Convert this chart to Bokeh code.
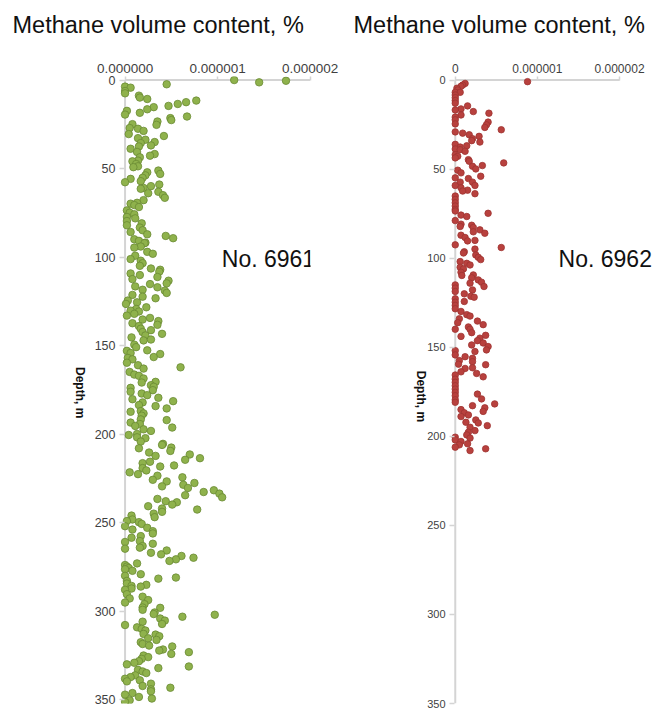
import numpy as np
from bokeh.plotting import figure
from bokeh.models import Range1d, FixedTicker, PrintfTickFormatter, Label, Arrow, LinearAxis
from bokeh.layouts import row
from bokeh.embed import file_html
from bokeh.resources import INLINE

# ---------------- data (methane content in units of 1e-6 %, depth in m) ----------------
UNIT = 1e-6

depth_6961 = [0, 1.3, 0.4, 2.4, 3.7, 4.3, 6.2, 7.5, 8.8, 9.9, 10.7, 11.6, 12.5, 13.5, 14.6, 15.3, 16.5, 17.4, 18.5, 19.5,
              20.6, 21.5, 22.6, 23.4, 24.9, 25.3, 27.1, 27.5, 28.7, 30.5, 31.6, 32.8, 33.7, 35, 35.6, 36.9, 37.5, 38.8, 40.6, 41.8,
              42.7, 43.6, 45.5, 45.9, 47.4, 48.7, 49.2, 51.1, 52.1, 53, 53.8, 55.2, 55.8, 57.1, 57.7, 59, 59.9, 60.9, 61.4, 63.1,
              63.9, 65, 66.5, 67.8, 69.3, 69.8, 70.6, 71.7, 73.6, 74.9, 75.8, 77.3, 78.1, 79.6, 80.9, 82, 83.3, 84.8, 85.8, 87.1,
              88, 89.3, 89.9, 90.8, 91.8, 92.1, 94, 94.6, 97, 98.1, 99.2, 101.1, 102, 103.4, 104.9, 106.4, 107.1, 108.2, 109.2, 110.1,
              111.2, 112.4, 113.3, 114.8, 115.2, 116.5, 117, 118.4, 118.9, 120.2, 121.3, 122.3, 123.2, 124.5, 125.5, 126.4, 128.3, 129.2, 130.2, 130.7,
              132, 133, 134.3, 135.2, 136.1, 137.3, 138.2, 138.9, 140.4, 141.2, 142.3, 143.3, 144.2, 145.3, 146.5, 147, 149.4, 150.8, 152.6, 152.9,
              154.1, 154.7, 156.4, 156.9, 157.7, 159.6, 161, 162.2, 162.9, 164.8, 166.3, 167, 168.5, 170.4, 170.8, 172.3, 173.2, 173.8, 175.1, 176,
              177, 177.9, 179.4, 180.2, 181.3, 182, 183.5, 184.1, 185.4, 186.9, 187.3, 188.2, 189.5, 191.6, 192, 193.4, 194.2, 195.3, 196.2, 197.2,
              198.1, 199.8, 200.4, 201.7, 202.2, 204.1, 205.4, 206, 207.5, 207.9, 209.4, 210.3, 211.4, 212.2, 213.5, 214.4, 215.5, 216.3, 217.6, 218.2,
              219.1, 220.4, 221.5, 222.5, 223.4, 224.3, 225.7, 226.6, 227.5, 228.5, 229.4, 230.3, 231.6, 232.6, 233.5, 234.4, 235.6, 236.5, 237.8, 238.4,
              239.7, 240.6, 241.9, 242.5, 243.8, 244.8, 245.9, 246.8, 248.1, 249, 249.6, 250.6, 251.9, 252.8, 253.8, 254.7, 256, 257.5, 258.4, 260.3,
              260.8, 261.8, 263.1, 264, 264.6, 265.6, 266.9, 267.8, 268.7, 269.7, 270.6, 271.5, 272.9, 273.8, 274.7, 275.5, 276.2, 277.1, 279, 279.9,
              280.9, 281.5, 282.8, 284.3, 285, 285.6, 286, 287.1, 287.8, 290.3, 291.7, 292.7, 293.6, 295, 295.9, 297.8, 298, 299.1, 300.6, 301.5,
              301.9, 303, 304, 305.2, 305.8, 307.1, 307.7, 309, 309.9, 310.8, 312.7, 313.1, 314, 315.2, 316.1, 317.4, 318.4, 319.3, 319.8, 321.5,
              322.1, 323, 324, 324.9, 325.8, 326.8, 328.1, 329, 329.9, 331.1, 332, 333, 333.9, 334.8, 336.1, 337.1, 338, 338.9, 339.5, 340.8,
              342.1, 343.1, 344, 345.1, 346.1, 347, 348.3, 349.2, 350.2, 351.1]
ch4_6961 = [1.18, 1.45, 1.74, 0.45, 0, 0.06, 0, 0, 0.15, 0.16, 0.24, 0.77, 0.66, 0.57, 0.47, 0.31, 0.24, 0.02, 0.16, 0,
            0.67, 0.49, 0.5, 0.35, 0.08, 0.34, 0.05, 0.14, 0.2, 0.04, 0.42, 0.14, 0.22, 0.32, 0.17, 0.28, 0.15, 0.06, 0.13, 0.32,
            0.27, 0.16, 0.14, 0.08, 0.12, 0.14, 0.09, 0.36, 0.24, 0.38, 0.22, 0.19, 0.06, 0.17, 0, 0.37, 0.28, 0.2, 0.17, 0.36,
            0.25, 0.41, 0.43, 0.2, 0.13, 0.06, 0.1, 0.15, 0.02, 0.05, 0.1, 0.02, 0.11, 0.02, 0.18, 0.02, 0.16, 0.19, 0.06, 0.24,
            0.44, 0.52, 0.1, 0.15, 0.22, 0.21, 0.17, 0.1, 0.24, 0.3, 0.11, 0.06, 0.17, 0.19, 0.16, 0.28, 0.38, 0.37, 0.06, 0.16,
            0.35, 0.08, 0.47, 0.45, 0.27, 0.11, 0.35, 0.19, 0.43, 0.45, 0.08, 0.19, 0.33, 0.03, 0.13, 0.01, 0.23, 0.12, 0.06, 0.15,
            0.1, 0.02, 0.27, 0.19, 0.36, 0.08, 0.35, 0.15, 0.17, 0.28, 0.19, 0.4, 0.22, 0.07, 0.28, 0.2, 0.1, 0.12, 0.24, 0.02,
            0.06, 0.38, 0.31, 0.03, 0.08, 0.02, 0.14, 0.6, 0.2, 0.05, 0.1, 0.15, 0.2, 0.33, 0.18, 0.28, 0.31, 0.06, 0.3, 0.06,
            0.18, 0.24, 0.36, 0.08, 0.52, 0.19, 0.15, 0.33, 0.45, 0.17, 0.06, 0.2, 0.18, 0.17, 0.45, 0.06, 0.16, 0.11, 0.51, 0.2,
            0.28, 0.13, 0.04, 0.13, 0.22, 0.17, 0.41, 0.4, 0.5, 0.15, 0.49, 0.26, 0.7, 0.33, 0.81, 0.65, 0.27, 0.19, 0.53, 0.38,
            0.19, 0.23, 0.05, 0.14, 0.35, 0.62, 0.3, 0.45, 0.75, 0.63, 0.4, 0.68, 0.96, 0.85, 1.02, 0.65, 1.05, 0.35, 0.44, 0.56,
            0.51, 0.25, 0.4, 0.78, 0.4, 0.31, 0.07, 0.32, 0.08, 0.02, 0.15, 0.18, 0, 0.24, 0.08, 0.3, 0.3, 0.17, 0.07, 0.16,
            0, 0.3, 0.19, 0.16, 0, 0.45, 0.28, 0.39, 0.61, 0.74, 0.55, 0.48, 0.13, 0, 0.02, 0.04, 0, 0.08, 0.17, 0,
            0.55, 0.36, 0.02, 0.02, 0.23, 0.07, 0.17, 0.07, 0, 0.02, 0.19, 0.05, 0.25, 0, 0.21, 0.19, 0.38, 0.19, 0.32, 0.31,
            0.97, 0.62, 0.38, 0.43, 0.19, 0.4, 0, 0.13, 0.18, 0.22, 0.2, 0.33, 0.37, 0.25, 0.34, 0.17, 0.19, 0.26, 0.51, 0.41,
            0.37, 0.69, 0.5, 0.2, 0.25, 0.18, 0.15, 0.1, 0.02, 0.69, 0.36, 0.14, 0.19, 0.23, 0.11, 0.06, 0, 0.16, 0.02, 0.28,
            0.19, 0.49, 0.28, 0.28, 0.08, 0, 0.15, 0.29, 0.05, 0]

depth_6962 = [0.9, 1.9, 2.8, 3.5, 4.6, 5.6, 6.9, 6.9, 8.4, 9.9, 11.5, 13, 14.5, 16.2, 16.8, 17.7, 18.6, 19.6, 20.8, 22.3,
              23.6, 24.6, 25.1, 26.6, 27.9, 29.1, 29.8, 30.7, 31.6, 32.9, 34, 34.8, 36.1, 36.9, 37.6, 38.7, 39.1, 40, 41.9, 42.8,
              43.7, 44.7, 45.6, 46.5, 48, 48.4, 49.9, 50.6, 52.1, 54, 54.9, 55.3, 57.3, 57.3, 59.2, 59.2, 60.5, 61.8, 62.3, 63.8,
              65.1, 67, 68.9, 70.7, 72.6, 73.5, 74.8, 75.8, 76.6, 78.9, 80.9, 81.5, 82.2, 82.8, 84.1, 85.2, 86, 87.1, 88.4, 90,
              90.3, 92.5, 94, 94.9, 96.4, 97.1, 98.2, 99.5, 100.8, 101.9, 102.9, 103.8, 105.1, 106, 107.9, 109.4, 109.7, 111, 112.2, 113.5,
              114, 115, 115.9, 116.8, 117.8, 118.7, 120, 121.4, 121.9, 122.8, 124.3, 124.7, 126.5, 128.4, 129.9, 131.7, 132.5, 134, 135.3, 136.2,
              137.3, 138.6, 139.9, 139.9, 141.8, 143.3, 143.9, 144.9, 146.3, 147.6, 148.7, 149.6, 151.5, 151.9, 152.4, 154.3, 155.3, 156.2, 157.5, 158.1,
              159.5, 159.8, 161.5, 161.9, 163.8, 164.7, 165.6, 166.6, 167.9, 169.7, 171.6, 173.5, 175.3, 176.3, 177.2, 179, 179.5, 180.9, 181.8, 182.8,
              184, 185, 186, 186.8, 188, 188.9, 190.8, 192.1, 192.5, 194, 194.9, 196.8, 197.7, 199.2, 200.5, 201, 202, 202.9, 204.2, 204.8,
              206.1, 207, 208]
ch4_6962 = [0.88, 0.12, 0.09, 0.07, 0.02, 0.03, 0, 0.06, 0, 0, 0, 0, 0.15, 0.07, 0, 0.22, 0.41, 0.07, 0, 0,
            0.4, 0, 0.38, 0.36, 0.56, 0, 0.09, 0.17, 0.29, 0.21, 0.2, 0.3, 0, 0.14, 0.06, 0, 0.06, 0.12, 0, 0.03,
            0, 0.16, 0.17, 0.59, 0.33, 0.21, 0.25, 0.03, 0.07, 0.31, 0, 0.16, 0.06, 0.21, 0.24, 0, 0.07, 0.15, 0.09, 0.24,
            0, 0, 0, 0, 0, 0, 0.4, 0.07, 0.14, 0, 0.07, 0.2, 0.06, 0.22, 0.3, 0.22, 0.36, 0.07, 0.12, 0.24,
            0.15, 0, 0.56, 0.24, 0.11, 0.1, 0.25, 0.28, 0.31, 0.06, 0.14, 0.18, 0.06, 0.1, 0.07, 0.22, 0.08, 0.2, 0.28, 0.32,
            0.18, 0, 0.35, 0, 0.21, 0, 0.11, 0.19, 0.23, 0, 0.11, 0, 0, 0, 0.07, 0.14, 0.18, 0.05, 0.27, 0.03,
            0.34, 0.16, 0.18, 0, 0.2, 0.37, 0.07, 0.3, 0.27, 0.34, 0.2, 0.4, 0.38, 0, 0.24, 0, 0.12, 0.21, 0.05, 0.21,
            0.04, 0.37, 0.21, 0.12, 0.07, 0.26, 0, 0.34, 0, 0, 0, 0, 0, 0.27, 0, 0.32, 0, 0, 0.48, 0.21,
            0.36, 0.07, 0.34, 0.11, 0.16, 0.07, 0.25, 0.13, 0.28, 0.39, 0.18, 0.24, 0.16, 0.14, 0, 0.18, 0, 0.07, 0.15, 0.05,
            0, 0.37, 0.18]

x_ticks = [0, 1e-6, 2e-6]
y_ticks = [0, 50, 100, 150, 200, 250, 300, 350]
title_text = "Methane volume content, %"
y_label_text = "Depth, m"
well_names = ["No. 6961", "No. 6962"]

FONT = "Liberation Sans"
AX_COL = "#d4d4d4"
TICK_TXT = "#3f3f3f"


def make_panel(depth, ch4, x_range, y_range, fw, mbl, mbr, fill, line, size, zero_label,
               title_offset, name_xy, ylab_anchor, ylab_standoff, xfs, yfs):
    p = figure(frame_width=fw, frame_height=627,
               x_range=Range1d(*x_range), y_range=Range1d(*y_range),
               x_axis_location="above", output_backend="svg", toolbar_location=None,
               min_border_left=mbl, min_border_right=mbr, min_border_top=76, min_border_bottom=7,
               title=title_text)
    p.outline_line_color = None
    p.grid.visible = False
    p.background_fill_color = "white"
    p.border_fill_color = "white"

    # title
    p.title.align = "left"
    p.title.vertical_align = "top"
    p.title.offset = title_offset
    p.title.text_font = FONT
    p.title.text_font_size = "23.5px"
    p.title.text_font_style = "normal"
    p.title.text_color = "#111111"
    p.title.standoff = 0

    # axes: real axes carry ticks/labels; axis lines are drawn at value 0
    for ax in (p.xaxis[0], p.yaxis[0]):
        ax.axis_line_color = None
        ax.major_tick_line_color = AX_COL
        ax.major_tick_line_width = 1.5
        ax.major_tick_out = 0
        ax.minor_tick_out = 0
        ax.minor_tick_in = 0
        ax.major_label_text_font = FONT
        ax.major_label_text_color = TICK_TXT
        ax.major_label_standoff = 4
    p.xaxis[0].major_label_text_font_size = xfs
    p.yaxis[0].major_label_text_font_size = yfs
    p.xaxis[0].major_tick_in = 4
    p.yaxis[0].major_tick_in = 5
    p.xaxis[0].ticker = FixedTicker(ticks=x_ticks)
    p.xaxis[0].formatter = PrintfTickFormatter(format="%.6f")
    if zero_label is not None:
        p.xaxis[0].major_label_overrides = {0: zero_label}
    p.yaxis[0].ticker = FixedTicker(ticks=y_ticks)

    # blank spacer axis between the tick labels and the title (white tick, no label)
    spacer = LinearAxis(ticker=FixedTicker(ticks=[x_ticks[0]]), axis_line_color=None,
                        major_tick_line_color="white", major_tick_line_width=1,
                        minor_tick_line_color=None,
                        major_tick_in=0, major_tick_out=21, minor_tick_in=0, minor_tick_out=0,
                        major_label_text_color=None, major_label_text_font_size="1px",
                        major_label_standoff=0)
    p.add_layout(spacer, "above")

    # "Depth, m" written top-to-bottom, as a single rotated label on an outer left axis
    lab_ax = LinearAxis(ticker=FixedTicker(ticks=[ylab_anchor]),
                        major_label_overrides={ylab_anchor: y_label_text},
                        major_label_orientation=-np.pi / 2,
                        axis_line_color=None, major_tick_line_color=None, minor_tick_line_color=None,
                        major_tick_in=0, major_tick_out=0, minor_tick_in=0, minor_tick_out=0,
                        major_label_text_font=FONT, major_label_text_font_size="12px",
                        major_label_text_font_style="bold", major_label_text_color="#111111",
                        major_label_standoff=ylab_standoff)
    p.add_layout(lab_ax, "left")

    # axis lines at x = 0 and depth = 0
    p.add_layout(Arrow(x_start=0, y_start=0, x_end=x_ticks[-1], y_end=0, end=None,
                       line_color=AX_COL, line_width=2, level="underlay"))
    p.add_layout(Arrow(x_start=0, y_start=0, x_end=0, y_end=y_range[0], end=None,
                       line_color=AX_COL, line_width=2, level="underlay"))

    p.scatter(np.array(ch4) * UNIT, depth, size=size, fill_color=fill, line_color=line, line_width=0.8)

    p.add_layout(Label(x=name_xy[0] * UNIT, y=name_xy[1], text=name_xy[2], text_font=FONT,
                       text_font_size="23px", text_color="#111111", text_align="left",
                       text_baseline="alphabetic"))
    return p


p1 = make_panel(depth_6961, ch4_6961, (-0.06e-6, 2.005e-6), (352, -2), 191, 119, 30,
                "#8fb24c", "#6a8a33", 7.5, None,
                -107, (1.046, 101.0, well_names[0]), 191, 12, "13.5px", "12.5px")
p2 = make_panel(depth_6962, ch4_6962, (-0.07e-6, 2.45e-6), (350, -2), 207, 109, 0,
                "#b8413e", "#9e3431", 6.5, "0",
                -96, (1.258, 100.5, well_names[1]), 192, 4, "12px", "11px")

layout = row(p1, p2)
open("out.html", "w").write(file_html(layout, INLINE))
